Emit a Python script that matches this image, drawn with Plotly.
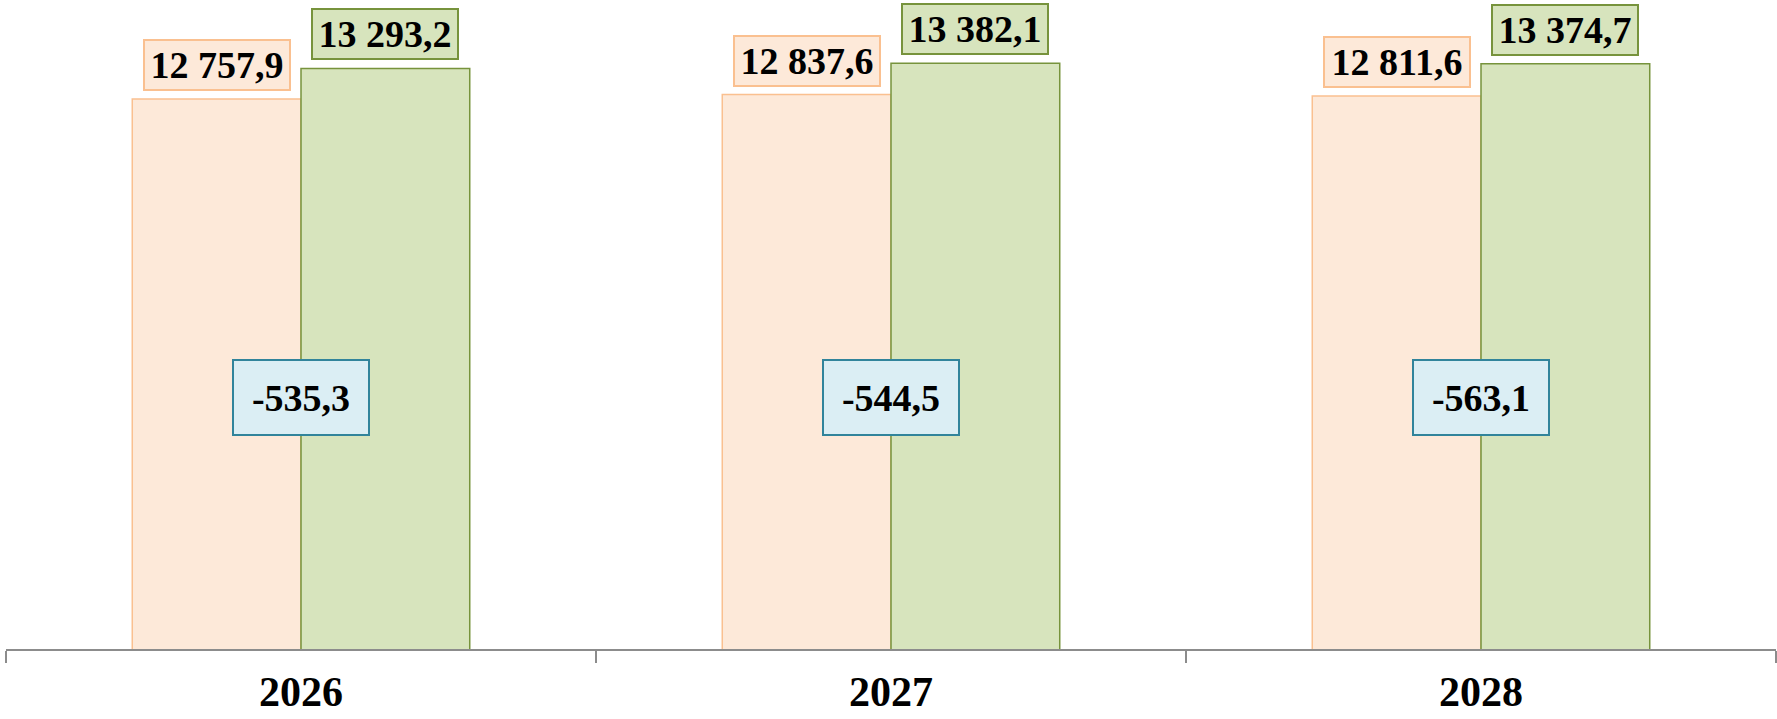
import plotly.graph_objects as go

years = ["2026", "2027", "2028"]
revenues = [12757.9, 12837.6, 12811.6]
expenses = [13293.2, 13382.1, 13374.7]
deficit = [-535.3, -544.5, -563.1]

ORANGE_FILL = "#FDE9D9"
ORANGE_LINE = "#FAC090"
GREEN_FILL = "#D7E4BD"
GREEN_LINE = "#77933C"
BLUE_FILL = "#DBEEF4"
BLUE_LINE = "#31849B"
FONT = "Liberation Serif"


def fmt(v):
    s = f"{abs(v):,.1f}".replace(",", " ").replace(".", ",")
    return ("-" if v < 0 else "") + s


fig = go.Figure()
fig.add_trace(go.Bar(x=years, y=revenues, marker=dict(color=ORANGE_FILL, line=dict(color=ORANGE_LINE, width=1.5)),
                     hoverinfo="skip"))
fig.add_trace(go.Bar(x=years, y=expenses, marker=dict(color=GREEN_FILL, line=dict(color=GREEN_LINE, width=1.5)),
                     hoverinfo="skip"))

bargap = 0.428
half = (1 - bargap) / 4
lab_font = dict(family=FONT, size=38, color="black", weight="bold")
annotations = []
for i, (r, e, d) in enumerate(zip(revenues, expenses, deficit)):
    annotations.append(dict(x=i - half, y=r, xref="x", yref="y", text=fmt(r), showarrow=False,
                            yanchor="bottom", yshift=8, width=144, height=48,
                            bgcolor=ORANGE_FILL, bordercolor=ORANGE_LINE, borderwidth=2, borderpad=0,
                            font=lab_font))
    annotations.append(dict(x=i + half, y=e, xref="x", yref="y", text=fmt(e), showarrow=False,
                            yanchor="bottom", yshift=8, width=144, height=48,
                            bgcolor=GREEN_FILL, bordercolor=GREEN_LINE, borderwidth=2, borderpad=0,
                            font=lab_font))
    annotations.append(dict(x=i, y=0.387, xref="x", yref="paper", text=fmt(d), showarrow=False,
                            yanchor="middle", width=134, height=73,
                            bgcolor=BLUE_FILL, bordercolor=BLUE_LINE, borderwidth=2, borderpad=0,
                            font=lab_font))

fig.update_layout(
    width=1777, height=719,
    margin=dict(l=6, r=1, t=0, b=70, pad=0),
    paper_bgcolor="white", plot_bgcolor="white",
    barmode="group", bargap=bargap, bargroupgap=0,
    showlegend=False,
    annotations=annotations,
    xaxis=dict(type="category", showline=True, linecolor="#8C8C8C", linewidth=2,
               ticks="outside", tickson="boundaries", ticklen=12, tickcolor="#8C8C8C", tickwidth=2,
               ticklabelstandoff=5,
               tickfont=dict(family=FONT, size=42, color="black", weight="bold"),
               showgrid=False, zeroline=False, automargin=False),
    yaxis=dict(range=[3143, 14490], visible=False, showgrid=False, zeroline=False, automargin=False),
)

fig.write_html("out.html", config={"displayModeBar": False},
               post_script="document.body.style.margin='0';document.body.style.overflow='hidden';")
